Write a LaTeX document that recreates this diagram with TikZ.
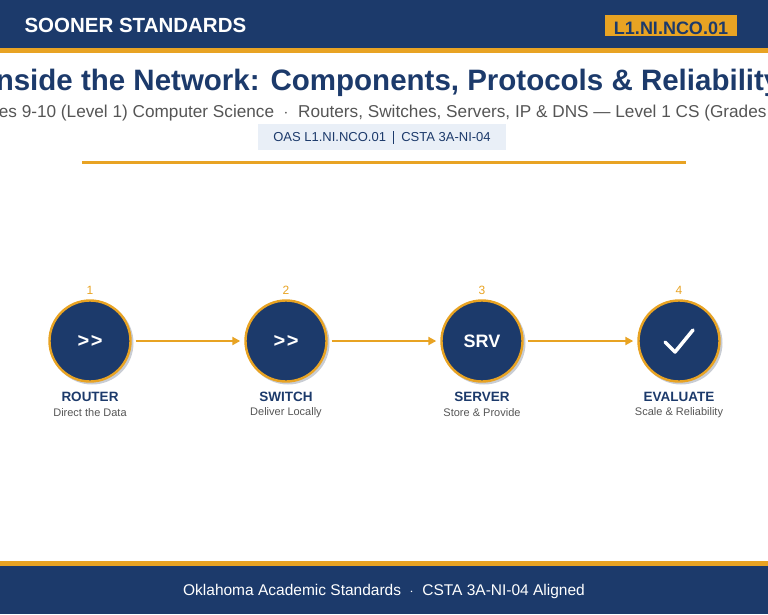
\documentclass[tikz,border=0pt]{standalone}
\usepackage{fontspec}
\setmainfont{Liberation Sans}
\usetikzlibrary{arrows.meta}
\definecolor{navy}{HTML}{1C3A6B}
\definecolor{gold}{HTML}{E8A323}
\definecolor{graytext}{HTML}{555555}
\definecolor{tagbg}{HTML}{E9EFF7}
\definecolor{shadowc}{HTML}{C9CDD4}
\tikzset{
  stepcircle/.style={circle, fill=navy, draw=gold, line width=2.4pt, minimum size=81pt, inner sep=0pt, text=white, font=\fontsize{18}{20}\selectfont\bfseries},
  numlabel/.style={text=gold, font=\fontsize{12}{14}\selectfont},
  steptitle/.style={text=navy, font=\fontsize{13.5}{15}\selectfont\bfseries},
  stepsub/.style={text=graytext, font=\fontsize{11}{13}\selectfont},
  flow/.style={draw=gold, line width=2pt, -{Triangle[length=8pt,width=8pt]}, shorten <=4pt, shorten >=4pt},
}
\begin{document}
\begin{tikzpicture}[x=1pt,y=-1pt]
\useasboundingbox (0,0) rectangle (768,614);
% header
\fill[navy] (0,0) rectangle (768,48);
\fill[gold] (0,48) rectangle (768,53);
\node[anchor=west, text=white, font=\fontsize{20.5}{22}\selectfont\bfseries] (brand) at (21,25) {SOONER STANDARDS};
\node[fill=gold, minimum width=132pt, minimum height=21pt, inner sep=0pt] (badge) at (671,25) {};
\node[text=navy, font=\fontsize{18}{20}\selectfont\bfseries] (badgetext) at (671,28) {L1.NI.NCO.01};
% title
\node[text=navy, font=\fontsize{29.5}{32}\selectfont\bfseries] (title) at (384,83) {Inside the Network: Components, Protocols \& Reliability};
\node[text=graytext, font=\fontsize{17.2}{20}\selectfont] (subtitle) at (386,113) {Grades 9-10 (Level 1) Computer Science \ $\cdot$ \ Routers, Switches, Servers, IP \& DNS — Level 1 CS (Grades 9-10)};
\node[fill=tagbg, minimum width=248pt, minimum height=26pt, inner sep=0pt] (tag) at (382,137) {};
\node[text=navy, font=\fontsize{13}{15}\selectfont] (tagtext) at (382,137) {OAS L1.NI.NCO.01 \ \rule[-2pt]{0.9pt}{13pt}\ \ CSTA 3A-NI-04};
\draw[gold, line width=3pt] (82,162) coordinate (rl) -- (686,162) coordinate (rr);
% shadows
\foreach \x in {90,286,482,679} \fill[shadowc] (\x+2,343) circle (41.5pt);
% steps
\node[stepcircle, font=\fontsize{20}{22}\selectfont\bfseries] (c1) at (90,341) {\raisebox{-1.5pt}{>\kern1.5pt>}};
\node[stepcircle, font=\fontsize{20}{22}\selectfont\bfseries] (c2) at (286,341) {\raisebox{-1.5pt}{>\kern1.5pt>}};
\node[stepcircle] (c3) at (482,341) {SRV};
\node[stepcircle] (c4) at (679,341) {};
\draw[white, line width=3.5pt, line cap=round, line join=round] ([shift={(-14,1)}]c4.center) -- ([shift={(-4,11)}]c4.center) -- ([shift={(14,-11)}]c4.center);
\node[numlabel] (n1) at (90,290) {1};
\node[numlabel] (n2) at (286,290) {2};
\node[numlabel] (n3) at (482,290) {3};
\node[numlabel] (n4) at (679,290) {4};
\node[steptitle] (t1) at (90,397) {ROUTER};
\node[steptitle] (t2) at (286,397) {SWITCH};
\node[steptitle] (t3) at (482,397) {SERVER};
\node[steptitle] (t4) at (679,397) {EVALUATE};
\node[stepsub] (s1) at (90,413) {Direct the Data};
\node[stepsub] (s2) at (286,413) {Deliver Locally};
\node[stepsub] (s3) at (482,413) {Store \& Provide};
\node[stepsub] (s4) at (679,413) {Scale \& Reliability};
\draw[flow] (c1.east) -- (c2.west);
\draw[flow] (c2.east) -- (c3.west);
\draw[flow] (c3.east) -- (c4.west);
% footer
\fill[gold] (0,561) rectangle (768,566);
\fill[navy] (0,566) rectangle (768,614);
\node[text=white, font=\fontsize{15.5}{18}\selectfont] (foot) at (384,591) {Oklahoma Academic Standards \ $\cdot$ \ CSTA 3A-NI-04 Aligned};
\end{tikzpicture}
\end{document}
